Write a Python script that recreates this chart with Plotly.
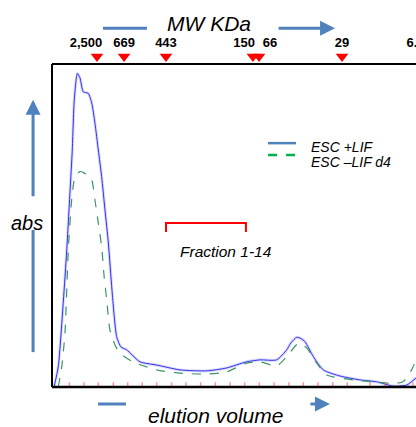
import plotly.graph_objects as go

# ---- data ----
vol_esc = [0.14, 0.43, 0.78, 1.01, 1.24, 1.39, 1.53, 1.74, 1.92, 2.15, 2.49, 2.73, 2.95, 3.18, 3.41,
           3.64, 3.87, 4.12, 4.44, 4.74, 5.13, 6.04, 7.19, 8.79, 10.63, 12.0, 13.37, 14.29, 15.43,
           16.12, 16.4, 16.81, 17.1, 17.38, 17.95, 18.63, 19.78, 21.15, 22.3, 23.42, 24.36, 25.0]
abs_esc = [0, 6.3, 26.6, 42.1, 60.7, 73.1, 88.9, 97.1, 95.7, 91.4, 90.9, 87.9, 81.7, 73.4, 65.1,
           54.8, 44.6, 30.0, 15.6, 12.4, 11.5, 7.8, 6.8, 5.3, 5.0, 5.9, 7.8, 8.4, 8.4,
           11.5, 13.6, 15.4, 15.0, 14.0, 9.4, 5.3, 3.4, 2.2, 1.6, 0.3, 0.6, 2.8]

vol_d4 = [0.43, 0.67, 0.89, 1.12, 1.35, 1.58, 1.92, 2.2, 2.49, 2.73, 2.95, 3.18, 3.41, 3.57, 3.76,
          3.98, 4.33, 4.67, 5.56, 7.19, 8.79, 10.63, 12.0, 13.37, 14.29, 15.43, 16.12, 16.92,
          17.49, 18.18, 18.87, 20.67, 22.05, 23.42, 24.1, 24.7, 25.0]
abs_d4 = [0, 6.3, 16.7, 42.4, 57.9, 65.1, 66.7, 66.3, 65.3, 64.1, 57.9, 50.8, 43.4, 34.7, 26.9,
          17.6, 13.0, 10.5, 7.8, 5.3, 4.3, 4.0, 4.7, 7.4, 7.8, 6.5, 9.4, 13.5,
          12.1, 7.4, 3.7, 2.2, 1.6, 1.1, 1.6, 5.3, 8.4]

fractions = [1.19, 2.2, 3.18, 4.21, 5.2, 6.2, 7.19, 8.22, 9.2, 10.21, 11.22, 12.23, 13.23, 14.24,
             15.25, 16.28, 17.26, 18.27, 19.28, 20.28, 21.84, 22.87, 24.79]

mw_labels = ["2,500", "669", "443", "150", "66", "29", "6.5"]
mw_label_pos = [2.34, 4.95, 7.83, 13.19, 14.97, 19.92, 24.97]
mw_marker_pos = [3.09, 4.95, 7.83, 13.8, 14.22, 19.92]

fraction_range = [7.83, 13.32]

X_MAX, Y_MAX = 25.0, 100.0
FONT = "Arial"
fig = go.Figure()

fig.add_trace(go.Scatter(x=vol_esc, y=abs_esc, mode="lines",
                         line=dict(color="rgba(160,160,255,0.4)", width=3, shape="spline", smoothing=0.6), hoverinfo="skip"))
fig.add_trace(go.Scatter(x=vol_esc, y=abs_esc, mode="lines",
                         line=dict(color="rgb(50,50,230)", width=1, shape="spline", smoothing=0.6)))
fig.add_trace(go.Scatter(x=vol_d4, y=abs_d4, mode="lines",
                         line=dict(color="rgb(60,150,100)", width=1.2, dash="dash", shape="spline", smoothing=0.6)))

# fraction ticks on the baseline
fig.add_trace(go.Scatter(x=fractions, y=[0.6] * len(fractions), mode="markers",
                         marker=dict(symbol="line-ns", size=4, line=dict(color="rgba(255,80,80,0.6)", width=1.5))))

# MW markers and labels
fig.add_trace(go.Scatter(x=mw_marker_pos, y=[102.3] * len(mw_marker_pos), mode="markers",
                         marker=dict(symbol="triangle-down", size=11, color="#ff0000")))
fig.add_trace(go.Scatter(x=mw_label_pos, y=[106.3] * len(mw_label_pos), mode="text", text=mw_labels,
                         textfont=dict(family=FONT, size=13, color="black", weight="bold"),
                         textposition="middle center", cliponaxis=False))

shapes = []
# frame (open on the right)
shapes.append(dict(type="line", xref="x", yref="y", x0=0, x1=X_MAX, y0=Y_MAX, y1=Y_MAX, line=dict(color="black", width=2)))
shapes.append(dict(type="line", xref="x", yref="y", x0=0, x1=X_MAX, y0=0, y1=0, line=dict(color="black", width=2.5)))
shapes.append(dict(type="line", xref="x", yref="y", x0=0, x1=0, y0=0, y1=Y_MAX, line=dict(color="black", width=2)))

# fraction bracket
fx0, fx1 = fraction_range
shapes.append(dict(type="path", xref="x", yref="y",
                   path=f"M {fx0},48 L {fx0},50.8 L {fx1},50.8 L {fx1},48",
                   line=dict(color="#ff0000", width=2)))

# legend lines
shapes.append(dict(type="line", xref="x", yref="y", x0=14.84, x1=16.76, y0=75.5, y1=75.5, line=dict(color="#4f81bd", width=2.5)))
shapes.append(dict(type="line", xref="x", yref="y", x0=14.84, x1=16.76, y0=71.8, y1=71.8, line=dict(color="#00b050", width=2.5, dash="dash")))

ARROW = "#4f81bd"
shapes.append(dict(type="line", xref="x", yref="y", x0=3.50, x1=6.52, y0=111.1, y1=111.1, line=dict(color=ARROW, width=3)))
shapes.append(dict(type="line", xref="x", yref="y", x0=-1.30, x1=-1.30, y0=10.8, y1=48.6, line=dict(color=ARROW, width=3)))
shapes.append(dict(type="line", xref="x", yref="y", x0=3.16, x1=5.08, y0=-5.26, y1=-5.26, line=dict(color=ARROW, width=3)))

ann = []
ann.append(dict(xref="x", yref="y", x=19.44, y=111.1, ax=-58, ay=0, showarrow=True,
                arrowhead=2, arrowsize=1, arrowwidth=3, arrowcolor=ARROW, text=""))
ann.append(dict(xref="x", yref="y", x=-1.30, y=88.9, ax=0, ay=98, showarrow=True,
                arrowhead=2, arrowsize=1, arrowwidth=3, arrowcolor=ARROW, text=""))
ann.append(dict(xref="x", yref="y", x=19.09, y=-5.26, ax=-21, ay=0, showarrow=True,
                arrowhead=2, arrowsize=1, arrowwidth=3, arrowcolor=ARROW, text=""))

def txt(x, y, s, size, xanchor="center"):
    return dict(xref="x", yref="y", x=x, y=y, text=s, showarrow=False, xanchor=xanchor, yanchor="middle",
                font=dict(family=FONT, size=size, color="black"))

ann.append(txt(10.78, 112.4, "<i>MW KDa</i>", 21))
ann.append(txt(-1.72, 50.8, "<i>abs</i>", 20))
ann.append(txt(11.2, -8.67, "<i>elution volume</i>", 21))
ann.append(txt(11.95, 42.1, "<i>Fraction 1-14</i>", 15.5))
ann.append(txt(17.65, 74.3, "<i>ESC +LIF</i>", 14, "left"))
ann.append(txt(17.65, 69.6, "<i>ESC \u2013LIF d4</i>", 14, "left"))

fig.update_layout(
    width=416, height=427,
    margin=dict(l=0, r=0, t=0, b=0, pad=0),
    plot_bgcolor="white", paper_bgcolor="white",
    showlegend=False,
    xaxis=dict(range=[-52 / 14.56, X_MAX], showgrid=False, zeroline=False, showticklabels=False,
               ticks="", showline=False, fixedrange=True),
    yaxis=dict(range=[-40 / 3.23, Y_MAX + 64 / 3.23], showgrid=False, zeroline=False, showticklabels=False,
               ticks="", showline=False, fixedrange=True),
    shapes=shapes, annotations=ann,
)

fig.write_html("out.html", config={"displayModeBar": False},
               post_script="document.body.style.margin='0px';")
